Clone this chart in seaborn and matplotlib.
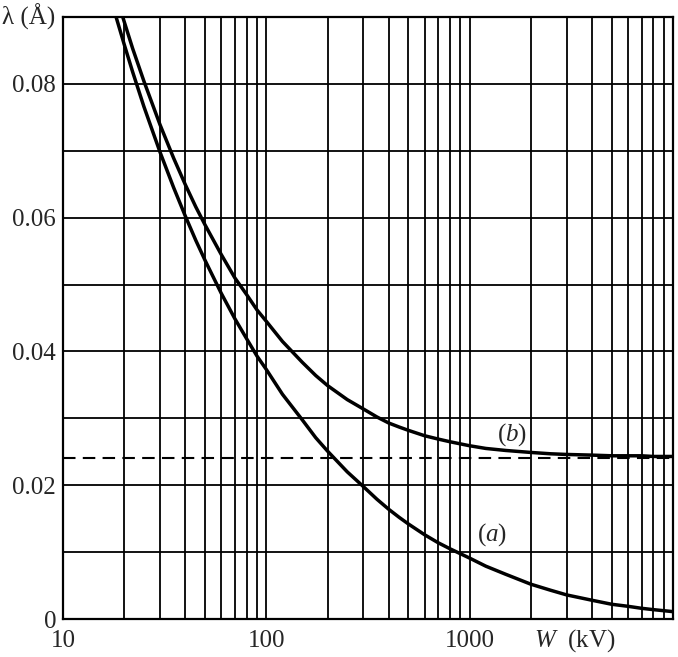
import numpy as np
import pandas as pd
import seaborn as sns
import matplotlib.pyplot as plt
from matplotlib.ticker import LogLocator, NullFormatter, MultipleLocator

# values
W_kV = [16, 18, 20, 22, 25, 30, 35, 40, 45, 50, 60, 70, 80, 90, 100, 120,
        150, 175, 200, 250, 300, 350, 400, 450, 500, 600, 700, 800, 1000,
        1200, 1500, 2000, 2500, 3000, 4000, 5000, 6000, 7000, 8000, 10000]
lam_a = [0.0960, 0.0906, 0.0859, 0.0818, 0.0766, 0.0698, 0.0645, 0.0602,
         0.0566, 0.0536, 0.0487, 0.0449, 0.0419, 0.0393, 0.0373, 0.0336,
         0.0298, 0.0271, 0.0251, 0.0220, 0.0198, 0.0179, 0.0164, 0.0152,
         0.0142, 0.0126, 0.0114, 0.0105, 0.0091, 0.0079, 0.0067, 0.0052,
         0.0043, 0.0036, 0.0028, 0.0022, 0.0019, 0.0016, 0.0014, 0.0011]
lam_b = [0.0990, 0.0938, 0.0893, 0.0853, 0.0804, 0.0739, 0.0689, 0.0649,
         0.0616, 0.0589, 0.0545, 0.0510, 0.0485, 0.0462, 0.0445, 0.0415,
         0.0384, 0.0364, 0.0349, 0.0328, 0.0314, 0.0302, 0.0293, 0.0287,
         0.0282, 0.0274, 0.0269, 0.0265, 0.0259, 0.0255, 0.0252, 0.0249,
         0.0247, 0.0246, 0.0245, 0.0244, 0.0244, 0.0244, 0.0243, 0.0243]
lam_dash = 0.0241

x_ticks = [10, 100, 1000]
x_labels = ['10', '100', '1000']
y_ticks = [0, 0.02, 0.04, 0.06, 0.08]
y_labels = ['0', '0.02', '0.04', '0.06', '0.08']

df = pd.DataFrame({'W': W_kV * 2,
                   'lam': lam_a + lam_b,
                   'curve': ['a'] * len(W_kV) + ['b'] * len(W_kV)})

sns.set_style('white')
plt.rcParams['font.family'] = ['Liberation Serif', 'DejaVu Serif']
plt.rcParams['mathtext.fontset'] = 'custom'
plt.rcParams['mathtext.rm'] = 'Liberation Serif'
plt.rcParams['mathtext.it'] = 'Liberation Serif:italic'

fig = plt.figure(figsize=(6.78, 6.57), dpi=100)
ax = fig.add_axes([63 / 678, 1 - 619 / 657, 610 / 678, 602 / 657])

sns.lineplot(data=df, x='W', y='lam', hue='curve', palette=['black', 'black'],
             linewidth=2.5, legend=False, ax=ax)
ax.axhline(lam_dash, color='black', linewidth=1.5, dashes=(6, 3.5))

ax.set_xscale('log')
ax.set_xlim(10, 10000)
ax.set_ylim(0, 0.09)

ax.set_xticks(x_ticks)
ax.set_xticklabels(x_labels)
ax.xaxis.set_minor_locator(LogLocator(base=10, subs=range(2, 10)))
ax.xaxis.set_minor_formatter(NullFormatter())
ax.set_yticks(y_ticks)
ax.set_yticklabels(y_labels)
ax.yaxis.set_minor_locator(MultipleLocator(0.01))

ax.grid(True, which='both', color='black', linewidth=1.3)
ax.tick_params(which='both', length=0, labelsize=18)
ax.tick_params(axis='x', pad=8)
ax.tick_params(axis='y', pad=5)
for s in ax.spines.values():
    s.set_color('black')
    s.set_linewidth(1.6)

ax.set_xlabel('')
ax.set_ylabel('')

ax.text(0.839, -0.036, '$W$  (kV)', transform=ax.transAxes, fontsize=18,
        ha='center', va='center')
ax.text(-0.012, 1.0, 'λ (Å)', transform=ax.transAxes, fontsize=18,
        ha='right', va='center')
ax.text(1615, 0.0275, '($b$)', fontsize=18, ha='center', va='center')
ax.text(1290, 0.0126, '($a$)', fontsize=18, ha='center', va='center')

fig.savefig('out.png', dpi=100)
